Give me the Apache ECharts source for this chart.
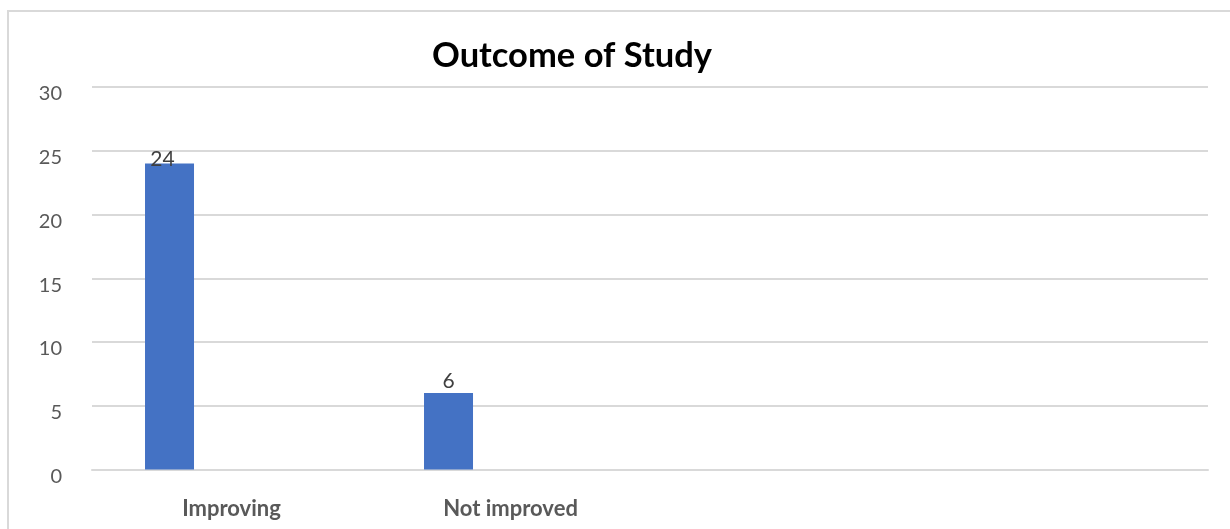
<!DOCTYPE html>
<html>
<head>
<meta charset="utf-8">
<script src="https://cdn.jsdelivr.net/npm/echarts@6/dist/echarts.min.js"></script>
<style>
  html, body { margin: 0; padding: 0; background: #ffffff; }
  #chart { width: 1230px; height: 529px; }
</style>
</head>
<body>
<div id="chart"></div>
<script>
// Outcome categories (the sheet range holds four rows, two of them blank)
const categories = ['Improving', 'Not improved', '', ''];
// Number of patients per outcome
const outcomeCounts = [24, 6, null, null];
// Empty companion series that keeps Excel-style bar slot placement
const emptySlot = ['-', '-', '-', '-'];
// Value axis range
const yMin = 0, yMax = 30, yStep = 5;

const FONT = 'Lato, "Open Sans", sans-serif';
const chart = echarts.init(document.getElementById('chart'), null, { renderer: 'canvas' });

// The first label sits a little lower and to the left, as Excel placed it
const barData = outcomeCounts.map((v, i) => (
  i === 0 ? { value: v, label: { offset: [-7, 7] } } : v
));

chart.setOption({
  backgroundColor: '#ffffff',
  animation: false,
  title: {
    text: 'Outcome of Study',
    left: 427,
    top: 33,
    textStyle: { fontFamily: FONT, fontWeight: 'bold', fontSize: 34.5, color: '#000000' }
  },
  graphic: [{
    type: 'rect',
    shape: { x: 8, y: 11, width: 1260, height: 560 },
    style: { fill: 'none', stroke: '#d9d9d9', lineWidth: 2 },
    silent: true
  }],
  grid: { left: 92, right: 22, top: 87, bottom: 59.5, containLabel: false },
  xAxis: {
    type: 'category',
    data: categories,
    axisLine: { show: true, lineStyle: { color: '#d9d9d9', width: 2 } },
    axisTick: { show: false },
    axisLabel: {
      fontFamily: FONT, fontSize: 22, fontWeight: 'bold', color: '#595959', margin: 28
    }
  },
  yAxis: {
    type: 'value',
    min: yMin, max: yMax, interval: yStep,
    axisLine: { show: false },
    axisTick: { show: false },
    splitLine: { lineStyle: { color: '#d9d9d9', width: 2 } },
    axisLabel: {
      fontFamily: FONT, fontSize: 20, color: '#595959', margin: 30,
      verticalAlign: 'top', lineHeight: 14
    }
  },
  series: [{
    name: 'Outcome',
    type: 'bar',
    data: barData,
    barWidth: 49,
    barGap: '153%',
    itemStyle: { color: '#4472C4' },
    label: {
      show: true, position: 'top', distance: 1,
      fontFamily: FONT, fontSize: 21, color: '#404040'
    }
  }, {
    name: 'spacer',
    type: 'bar',
    data: emptySlot,
    barWidth: 49,
    silent: true
  }]
});
</script>
</body>
</html>
